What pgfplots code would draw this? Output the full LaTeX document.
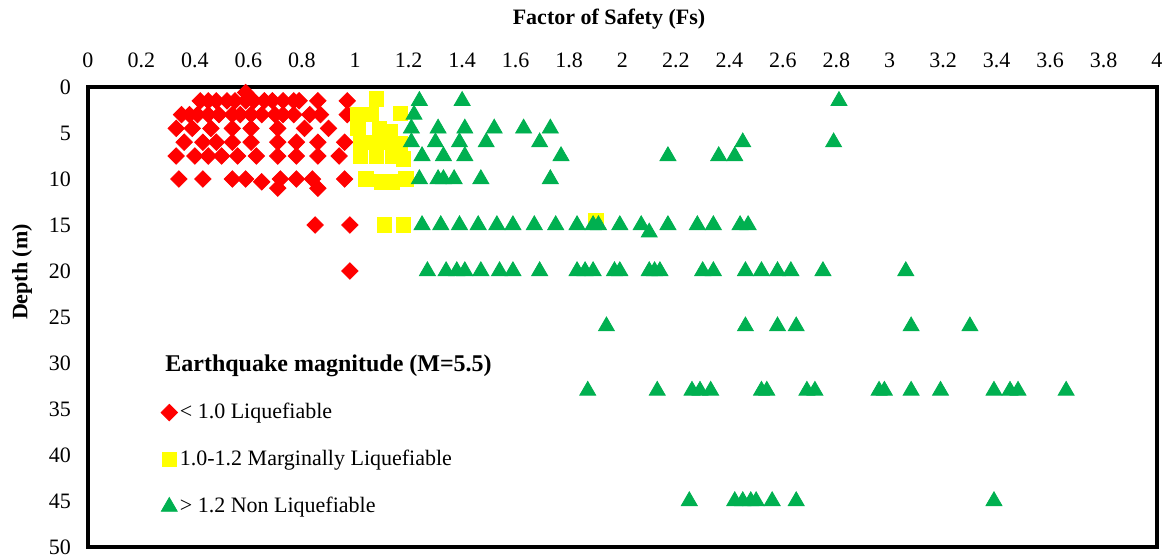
\documentclass[border=0pt]{standalone}
\usepackage{fontspec}
\setmainfont{Liberation Serif}
\usepackage{pgfplots}
\pgfplotsset{compat=1.18}
\definecolor{myred}{RGB}{255,0,0}
\definecolor{myyellow}{RGB}{255,255,0}
\definecolor{mygreen}{RGB}{0,176,80}
\begin{document}
\begin{tikzpicture}[font=\fontsize{11}{13}\selectfont]
\begin{axis}[
  at={(0,0)}, anchor=south west,
  width=534.5pt, height=230pt, scale only axis,
  xmin=0, xmax=4, ymin=0, ymax=50, y dir=reverse,
  xtick={0,0.2,0.4,0.6,0.8,1,1.2,1.4,1.6,1.8,2,2.2,2.4,2.6,2.8,3,3.2,3.4,3.6,3.8,4},
  ytick={0,5,10,15,20,25,30,35,40,45,50},
  xticklabel pos=upper,
  major tick length=0pt,
  /pgf/number format/assume math mode=true,
  tick label style={font=\fontsize{11}{13}\selectfont},
  xticklabel style={yshift=6pt},
  yticklabel style={xshift=-5pt},
  axis line style={line width=1.6pt},
  clip=false,
  legend style={at={(axis description cs:0.068,0.322)}, anchor=north west, draw=none, fill=none,
    row sep=10.3pt, font=\fontsize{11}{13}\selectfont, inner sep=0pt,
    nodes={inner xsep=1.2pt}},
  legend cell align=left,
  legend image code/.code={\draw[mark repeat=1,#1] plot coordinates {(0pt,0pt)};},
]
\addplot[only marks, mark=square*, mark size=2.9pt, mark options={rotate=45, fill=myred, draw=myred}] coordinates {
(0.59,0.6)
(0.42,1.5) (0.45,1.5) (0.48,1.5) (0.52,1.5) (0.55,1.5) (0.59,1.5) (0.62,1.5) (0.66,1.5) (0.69,1.5) (0.73,1.5) (0.77,1.5) (0.79,1.5) (0.86,1.5) (0.97,1.5)
(0.35,3) (0.38,3) (0.41,3) (0.45,3) (0.49,3) (0.54,3) (0.57,3) (0.61,3) (0.65,3) (0.70,3) (0.73,3) (0.77,3) (0.83,3) (0.87,3) (0.97,3)
(0.33,4.5) (0.39,4.5) (0.46,4.5) (0.54,4.5) (0.61,4.5) (0.71,4.5) (0.81,4.5) (0.90,4.5)
(0.36,6) (0.43,6) (0.48,6) (0.54,6) (0.61,6) (0.71,6) (0.78,6) (0.86,6) (0.96,6)
(0.33,7.5) (0.40,7.5) (0.45,7.5) (0.50,7.5) (0.56,7.5) (0.63,7.5) (0.71,7.5) (0.78,7.5) (0.86,7.5) (0.94,7.5)
(0.34,10) (0.43,10) (0.54,10) (0.59,10) (0.65,10.3) (0.72,10) (0.78,10) (0.84,10) (0.96,10) (0.71,11) (0.86,11)
(0.85,15) (0.98,15)
(0.98,20)
};
\addlegendentry{< 1.0 Liquefiable}
\addplot[only marks, mark=square*, mark size=3.6pt, mark options={fill=myyellow, draw=myyellow}] coordinates {
(1.08,1.3)
(1.01,3) (1.06,3) (1.17,2.9)
(1.01,4.5) (1.09,4.5) (1.13,4.8)
(1.02,6) (1.07,6) (1.13,6) (1.17,6.2)
(1.02,7.5) (1.08,7.5) (1.14,7.5) (1.18,7.8)
(1.04,10) (1.10,10.3) (1.14,10.3) (1.19,10)
(1.11,15) (1.18,15) (1.90,14.5)
};
\addlegendentry{1.0-1.2 Marginally Liquefiable}
\addplot[only marks, mark=triangle*, mark size=4.6pt, mark options={fill=mygreen, draw=mygreen}] coordinates {
(1.24,1.5) (1.40,1.5) (2.81,1.5)
(1.22,3)
(1.21,4.5) (1.31,4.5) (1.41,4.5) (1.52,4.5) (1.63,4.5) (1.73,4.5)
(1.21,6) (1.30,6) (1.39,6) (1.49,6) (1.69,6) (2.45,6) (2.79,6)
(1.25,7.5) (1.33,7.5) (1.41,7.5) (1.77,7.5) (2.17,7.5) (2.36,7.5) (2.42,7.5)
(1.24,10) (1.31,10) (1.33,10) (1.37,10) (1.47,10) (1.73,10)
(1.25,15) (1.32,15) (1.39,15) (1.46,15) (1.53,15) (1.59,15) (1.67,15) (1.75,15) (1.83,15) (1.89,15) (1.91,15) (1.99,15) (2.07,15) (2.10,15.8) (2.17,15) (2.28,15) (2.34,15) (2.44,15) (2.47,15)
(1.27,20) (1.34,20) (1.38,20) (1.41,20) (1.47,20) (1.54,20) (1.59,20) (1.69,20) (1.83,20) (1.86,20) (1.89,20) (1.97,20) (1.99,20) (2.10,20) (2.12,20) (2.14,20) (2.30,20) (2.34,20) (2.46,20) (2.52,20) (2.58,20) (2.63,20) (2.75,20) (3.06,20)
(1.94,26) (2.46,26) (2.58,26) (2.65,26) (3.08,26) (3.30,26)
(1.87,33) (2.13,33) (2.26,33) (2.29,33) (2.33,33) (2.52,33) (2.54,33) (2.69,33) (2.72,33) (2.96,33) (2.98,33) (3.08,33) (3.19,33) (3.39,33) (3.45,33) (3.48,33) (3.66,33)
(2.25,45) (2.42,45) (2.45,45) (2.48,45) (2.50,45) (2.56,45) (2.65,45) (3.39,45)
};
\addlegendentry{> 1.2 Non Liquefiable}
\end{axis}
\node[font=\fontsize{11}{13}\selectfont\bfseries] at (260.5pt,264pt) {Factor of Safety (Fs)};
\node[font=\fontsize{11}{13}\selectfont\bfseries, rotate=90] at (-33pt,137.5pt) {Depth (m)};
\node[font=\fontsize{12}{14}\selectfont\bfseries, anchor=west, inner sep=0pt] at (38.5pt,90.5pt) {Earthquake magnitude (M=5.5)};
\pgfresetboundingbox
\path[use as bounding box] (-44pt,-3.5pt) rectangle (540.5pt,273.5pt);
\end{tikzpicture}
\end{document}
